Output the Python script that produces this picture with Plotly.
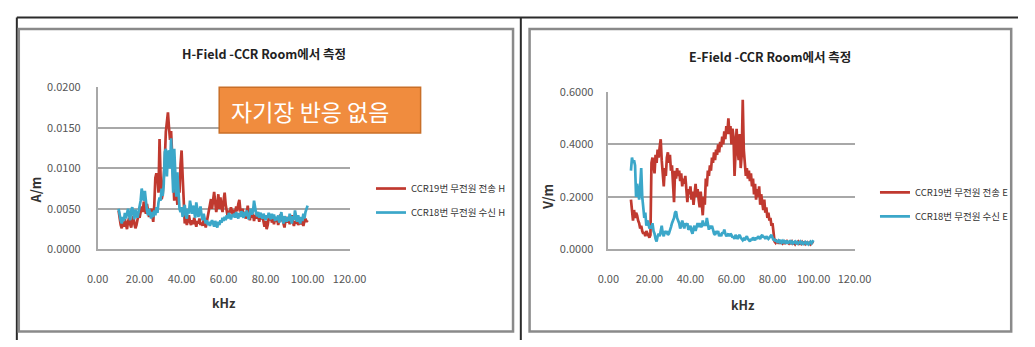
import plotly.graph_objects as go

# Measurement frequency grids (kHz)
h_freq = [10 + 0.5 * i for i in range(181)]   # 10.0 .. 100.0
e_freq = [11 + 0.5 * i for i in range(179)]   # 11.0 .. 100.0

# H-field, mA/m
h_ccr19 = [
    4.8, 3.6, 3.0, 2.6, 3.3, 2.8, 3.7, 3.1, 2.5, 3.4,
    3.9, 3.1, 2.7, 3.5, 4.1, 3.2, 2.6, 3.0, 3.8, 4.3,
    3.9, 4.5, 5.3, 4.6, 5.9, 5.0, 4.4, 5.6, 4.7, 4.0,
    4.4, 5.0, 4.2, 3.4, 5.5, 8.8, 9.4, 9.0, 7.0, 13.6,
    9.0, 6.2, 6.8, 8.5, 11.0, 14.5, 15.8, 16.9, 15.0, 13.5,
    14.6, 11.0, 7.5, 6.0, 9.0, 6.5, 5.5, 8.5, 7.0, 10.5,
    12.2, 9.0, 4.5, 3.2, 3.8, 3.0, 3.6, 4.2, 3.4, 3.0,
    3.6, 3.1, 3.9, 3.4, 2.8, 3.5, 3.2, 3.8, 3.0, 3.3,
    2.9, 3.6, 3.3, 2.7, 3.4, 4.0, 4.8, 5.5, 6.2, 5.0,
    6.6, 7.1, 5.8, 4.6, 5.5, 6.8, 5.0, 6.4, 5.2, 4.6,
    6.0, 7.0, 5.5, 4.4, 4.0, 4.8, 4.5, 5.2, 4.6, 4.2,
    4.9, 4.4, 5.3, 4.7, 5.6, 6.1, 4.8, 4.3, 5.0, 4.2,
    4.6, 3.8, 4.3, 5.4, 4.1, 3.6, 4.5, 3.9, 4.4, 3.5,
    4.2, 3.8, 4.6, 4.0, 3.4, 4.3, 3.7, 4.1, 3.2, 2.8,
    3.5, 2.5, 3.0, 3.9, 3.6, 4.2, 3.3, 3.8, 3.1, 4.0,
    3.4, 3.9, 3.0, 3.6, 4.3, 3.5, 3.9, 3.2, 2.7, 3.6,
    4.0, 3.3, 3.7, 3.1, 3.8, 4.2, 3.4, 2.9, 3.5, 3.2,
    3.8, 3.0, 3.4, 3.1, 3.7, 3.3, 2.9, 3.5, 3.8, 3.4,
    3.6,
]
h_ccr18 = [
    5.0, 4.2, 3.6, 3.2, 4.0, 3.5, 4.5, 3.8, 4.6, 5.0,
    4.2, 3.6, 4.8, 5.2, 4.4, 3.7, 4.9, 4.3, 3.9, 4.6,
    5.4, 6.0, 7.5, 6.8, 6.0, 7.2, 5.5, 4.8, 4.2, 5.0,
    4.4, 3.8, 4.6, 4.0, 4.8, 4.2, 5.2, 4.5, 5.8, 6.4,
    6.0, 7.5, 6.6, 8.0, 12.0, 12.4, 9.0, 11.8, 12.2, 10.0,
    13.7, 9.5, 7.0, 12.4, 8.0, 6.5, 9.5, 7.0, 5.0, 4.6,
    5.2, 4.0, 4.6, 5.5, 4.2, 3.8, 5.0, 4.4, 6.0, 5.2,
    4.4, 5.4, 4.6, 3.9, 5.8, 4.8, 4.0, 4.6, 5.3, 4.2,
    3.6, 4.4, 3.8, 3.2, 3.6, 3.0, 3.4, 2.9, 3.3, 3.6,
    3.2, 2.8, 3.5, 3.1, 2.7, 3.4, 3.0, 3.6, 3.3, 3.9,
    3.5, 4.0, 3.6, 4.2, 3.8, 4.5, 4.1, 3.7, 4.3, 4.0,
    4.4, 3.9, 4.6, 4.2, 3.8, 4.5, 4.0, 4.7, 4.3, 3.9,
    4.6, 4.1, 4.8, 4.2, 3.7, 4.4, 5.0, 4.3, 4.7, 6.0,
    5.0, 4.4, 4.1, 4.6, 3.9, 4.5, 4.2, 3.8, 4.4, 4.0,
    3.6, 4.2, 3.9, 4.5, 4.1, 3.7, 4.4, 3.8, 4.3, 3.5,
    4.0, 3.6, 4.2, 3.3, 3.9, 4.6, 3.7, 3.2, 4.1, 3.8,
    3.4, 4.0, 3.5, 4.4, 3.8, 3.2, 4.1, 3.6, 4.8, 3.9,
    3.4, 4.2, 3.7, 3.2, 4.0, 3.5, 4.4, 3.8, 4.6, 5.2,
    5.4,
]

# E-field, V/m
e_ccr19 = [
    0.19, 0.13, 0.11, 0.15, 0.12, 0.14, 0.13, 0.11, 0.10, 0.08,
    0.09, 0.07, 0.06, 0.065, 0.05, 0.07, 0.06, 0.05, 0.045, 0.055,
    0.33, 0.35, 0.31, 0.29, 0.36, 0.33, 0.38, 0.35, 0.39, 0.42,
    0.34, 0.30, 0.24, 0.31, 0.28, 0.35, 0.37, 0.33, 0.36, 0.30,
    0.32, 0.25, 0.18, 0.30, 0.27, 0.31, 0.28, 0.30, 0.26, 0.29,
    0.24, 0.27, 0.25, 0.28, 0.22, 0.18, 0.23, 0.21, 0.24, 0.19,
    0.22, 0.17, 0.21, 0.25, 0.20, 0.23, 0.19, 0.16, 0.22, 0.18,
    0.13, 0.20, 0.17, 0.27, 0.24, 0.30, 0.28, 0.32, 0.30, 0.35,
    0.33, 0.37, 0.34, 0.38, 0.36, 0.40, 0.37, 0.41, 0.39, 0.43,
    0.40, 0.45, 0.42, 0.47, 0.44, 0.50, 0.44, 0.47, 0.40, 0.46,
    0.43, 0.28, 0.42, 0.46, 0.38, 0.34, 0.44, 0.31, 0.36, 0.57,
    0.38, 0.33, 0.28, 0.31, 0.27, 0.30, 0.26, 0.29, 0.24, 0.27,
    0.21, 0.25, 0.19, 0.23, 0.20, 0.24, 0.17, 0.21, 0.18, 0.15,
    0.19, 0.14, 0.16, 0.12, 0.14, 0.11, 0.12, 0.09, 0.10, 0.06,
    0.030, 0.025, 0.032, 0.028, 0.022, 0.030, 0.026, 0.033, 0.024, 0.029,
    0.021, 0.027, 0.031, 0.025, 0.022, 0.028, 0.024, 0.030, 0.023, 0.026,
    0.020, 0.027, 0.024, 0.029, 0.022, 0.025, 0.021, 0.028, 0.023, 0.026,
    0.020, 0.024, 0.027, 0.022, 0.025, 0.019, 0.023, 0.026, 0.024,
]
e_ccr18 = [
    0.30, 0.35, 0.33, 0.34, 0.32, 0.20, 0.25, 0.22, 0.19, 0.24,
    0.31, 0.20, 0.15, 0.12, 0.14, 0.09, 0.11, 0.10, 0.08, 0.09,
    0.08, 0.10, 0.07, 0.06, 0.04, 0.03, 0.05, 0.06, 0.05, 0.08,
    0.09, 0.06, 0.05, 0.07, 0.06, 0.07, 0.055, 0.06, 0.08, 0.085,
    0.10, 0.11, 0.12, 0.14, 0.145, 0.12, 0.11, 0.10, 0.08, 0.09,
    0.11, 0.09, 0.08, 0.10, 0.09, 0.10, 0.075, 0.08, 0.09, 0.07,
    0.06, 0.08, 0.09, 0.07, 0.09, 0.10, 0.085, 0.10, 0.09, 0.085,
    0.11, 0.09, 0.10, 0.09, 0.12, 0.10, 0.075, 0.09, 0.08, 0.09,
    0.07, 0.06, 0.055, 0.07, 0.06, 0.07, 0.05, 0.06, 0.05, 0.065,
    0.06, 0.075, 0.06, 0.05, 0.055, 0.06, 0.05, 0.06, 0.055, 0.045,
    0.05, 0.04, 0.055, 0.045, 0.04, 0.05, 0.055, 0.045, 0.04, 0.035,
    0.04, 0.035, 0.045, 0.05, 0.04, 0.035, 0.03, 0.04, 0.035, 0.045,
    0.04, 0.035, 0.045, 0.04, 0.05, 0.045, 0.04, 0.05, 0.055, 0.045,
    0.05, 0.04, 0.05, 0.045, 0.04, 0.045, 0.05, 0.055, 0.045, 0.035,
    0.04, 0.03, 0.035, 0.025, 0.033, 0.028, 0.036, 0.027, 0.032, 0.024,
    0.03, 0.026, 0.033, 0.022, 0.028, 0.031, 0.025, 0.029, 0.023, 0.027,
    0.03, 0.024, 0.028, 0.022, 0.026, 0.03, 0.023, 0.027, 0.021, 0.025,
    0.028, 0.022, 0.026, 0.02, 0.025, 0.029, 0.023, 0.027, 0.035,
]

h_names = ["CCR19번 무전원 전송 H", "CCR18번 무전원 수신 H"]
e_names = ["CCR19번 무전원 전송 E", "CCR18번 무전원 수신 E"]
x_ticks = [0, 20, 40, 60, 80, 100, 120]

W, H = 1035, 347
FONT = "Noto Sans CJK KR"
RED = "#C0392F"
BLUE = "#3BA7C9"
GRID = "#A8A8A8"
TICK = "#555555"


def px(x):
    return x / W


def py(y):
    return 1 - y / H


fig = go.Figure()

fig.add_trace(go.Scatter(x=h_freq, y=[v / 1000 for v in h_ccr19], mode="lines",
                         line=dict(color=RED, width=2.7), name=h_names[0],
                         xaxis="x", yaxis="y", legend="legend", legendgroup="h19"))
fig.add_trace(go.Scatter(x=h_freq, y=[v / 1000 for v in h_ccr18], mode="lines",
                         line=dict(color=BLUE, width=2.7), name=h_names[1],
                         xaxis="x", yaxis="y", legend="legend", legendgroup="h18"))
fig.add_trace(go.Scatter(x=e_freq, y=e_ccr19, mode="lines",
                         line=dict(color=RED, width=2.7), name=e_names[0],
                         xaxis="x2", yaxis="y2", legend="legend2", legendgroup="e19"))
fig.add_trace(go.Scatter(x=e_freq, y=e_ccr18, mode="lines",
                         line=dict(color=BLUE, width=2.7), name=e_names[1],
                         xaxis="x2", yaxis="y2", legend="legend2", legendgroup="e18"))

xcommon = dict(range=[0, 120], tickvals=x_ticks, tickformat=".2f", showgrid=False,
               showline=True, linecolor=GRID, linewidth=1.5, zeroline=False,
               ticks="outside", ticklen=19, tickcolor="rgba(0,0,0,0)",
               tickfont=dict(family=FONT, size=11, color=TICK), fixedrange=True)
ycommon = dict(showgrid=True, gridcolor=GRID, gridwidth=1.5, showline=True,
               linecolor=GRID, linewidth=1.5, zeroline=False,
               ticks="outside", tickcolor="rgba(0,0,0,0)",
               tickformat=".4f", tickfont=dict(family=FONT, size=11, color=TICK),
               fixedrange=True)

legend_common = dict(xanchor="left", yanchor="top", bgcolor="rgba(0,0,0,0)",
                     font=dict(family=FONT, size=9.5, color="#333333"),
                     tracegroupgap=5, borderwidth=0)

fig.update_layout(
    width=W, height=H,
    margin=dict(l=0, r=0, t=0, b=0),
    paper_bgcolor="white", plot_bgcolor="white",
    xaxis=dict(domain=[px(89), px(348)], anchor="y", **xcommon),
    yaxis=dict(domain=[py(252), py(82)], anchor="x", range=[0, 0.02], dtick=0.005,
               ticklen=13, **ycommon),
    xaxis2=dict(domain=[px(614), px(867)], anchor="y2", **xcommon),
    yaxis2=dict(domain=[py(252), py(87)], anchor="x2", range=[0, 0.6], dtick=0.2,
                ticklen=11, **ycommon),
    legend=dict(x=px(370), y=py(173), **legend_common),
    legend2=dict(x=px(888), y=py(177), **legend_common),
    showlegend=True,
)

line_dark = dict(color="#2b2b2b", width=2)
frame = dict(color="#8a8a8a", width=2.5)
shapes = [
    # table rules
    dict(type="line", x0=px(6), x1=px(1035), y0=py(9), y1=py(9), line=line_dark),
    dict(type="line", x0=px(6), x1=px(6), y0=py(9), y1=py(347), line=line_dark),
    dict(type="line", x0=px(524), x1=px(524), y0=py(9), y1=py(347), line=line_dark),
    # chart frames
    dict(type="rect", x0=px(8), x1=px(516), y0=py(21), y1=py(338), line=frame),
    dict(type="rect", x0=px(533), x1=px(1028), y0=py(21), y1=py(338), line=frame),
    # callout box
    dict(type="rect", x0=px(214), x1=px(421), y0=py(82), y1=py(130),
         fillcolor="#F08C3E", line=dict(color="#C96F28", width=1.5), layer="above"),
]
for s in shapes:
    s.update(xref="paper", yref="paper")
fig.update_layout(shapes=shapes)

annotations = [
    dict(text="<b>H-Field -CCR Room에서 측정</b>", x=px(260), y=py(47),
         font=dict(family=FONT, size=12.5, color="#222222")),
    dict(text="<b>E-Field -CCR Room에서 측정</b>", x=px(780), y=py(50),
         font=dict(family=FONT, size=12.5, color="#222222")),
    dict(text="<b>A/m</b>", x=px(25), y=py(190), textangle=-90,
         font=dict(family=FONT, size=13, color="#333333")),
    dict(text="<b>kHz</b>", x=px(219), y=py(308),
         font=dict(family=FONT, size=12.5, color="#333333")),
    dict(text="<b>V/m</b>", x=px(552), y=py(197), textangle=-90,
         font=dict(family=FONT, size=13, color="#333333")),
    dict(text="<b>kHz</b>", x=px(752), y=py(310),
         font=dict(family=FONT, size=12.5, color="#333333")),
    dict(text="자기장 반응 없음", x=px(224), y=py(107), xanchor="left",
         font=dict(family=FONT, size=23, color="white")),
]
for a in annotations:
    a.setdefault("xanchor", "center")
    a.update(xref="paper", yref="paper", showarrow=False, yanchor="middle")
fig.update_layout(annotations=annotations)

fig.write_html("out.html")
